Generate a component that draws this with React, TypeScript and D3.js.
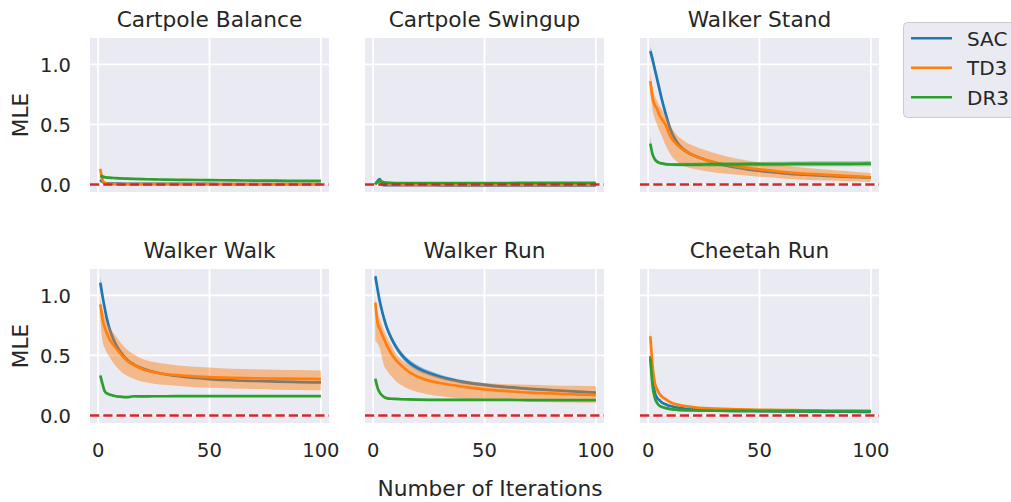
import * as d3 from "d3";

const iterations = [1, 2, 3, 4, 5, 6, 8, 10, 13, 16, 20, 25, 30, 40, 50, 60, 70, 80, 90, 100];
const algorithms = ["SAC", "TD3", "DR3"];
const colors = ["#1f77b4", "#ff7f0e", "#2ca02c"];
const tasks = ["Cartpole Balance", "Cartpole Swingup", "Walker Stand", "Walker Walk", "Walker Run", "Cheetah Run"];
const xTicks = [0, 50, 100];
const yTicks = [0, 0.5, 1.0];

// Cartpole Balance
const cbSac = [0.04, 0.02, 0.012, 0.009, 0.008, 0.007, 0.006, 0.006, 0.005, 0.005, 0.005, 0.004, 0.004, 0.004, 0.004, 0.003, 0.003, 0.003, 0.003, 0.003];
const cbSacLo = [0.03, 0.014, 0.007, 0.005, 0.004, 0.004, 0.003, 0.003, 0.002, 0.002, 0.002, 0.002, 0.002, 0.002, 0.002, 0.001, 0.001, 0.001, 0.001, 0.001];
const cbSacHi = [0.05, 0.026, 0.017, 0.013, 0.012, 0.01, 0.009, 0.009, 0.008, 0.008, 0.008, 0.006, 0.006, 0.006, 0.006, 0.005, 0.005, 0.005, 0.005, 0.005];
const cbTd3 = [0.13, 0.035, 0.012, 0.006, 0.004, 0.003, 0.003, 0.002, 0.002, 0.002, 0.002, 0.002, 0.002, 0.002, 0.002, 0.002, 0.002, 0.002, 0.002, 0.002];
const cbTd3Lo = [0.11, 0.025, 0.007, 0.003, 0.002, 0.001, 0.001, 0, 0, 0, 0, 0, 0, 0, 0, 0, 0, 0, 0, 0];
const cbTd3Hi = [0.15, 0.045, 0.017, 0.009, 0.006, 0.005, 0.005, 0.004, 0.004, 0.004, 0.004, 0.004, 0.004, 0.004, 0.004, 0.004, 0.004, 0.004, 0.004, 0.004];
const cbDr3 = [0.07, 0.065, 0.06, 0.058, 0.056, 0.055, 0.052, 0.05, 0.048, 0.046, 0.044, 0.042, 0.04, 0.038, 0.036, 0.034, 0.032, 0.031, 0.03, 0.029];
const cbDr3Lo = [0.055, 0.05, 0.047, 0.046, 0.045, 0.045, 0.043, 0.042, 0.04, 0.039, 0.037, 0.035, 0.034, 0.032, 0.03, 0.028, 0.026, 0.025, 0.024, 0.023];
const cbDr3Hi = [0.085, 0.08, 0.073, 0.07, 0.067, 0.065, 0.061, 0.058, 0.056, 0.053, 0.051, 0.049, 0.046, 0.044, 0.042, 0.04, 0.038, 0.037, 0.036, 0.035];

// Cartpole Swingup
const csSac = [0, 0.03, 0.045, 0, -0.005, -0.006, -0.006, -0.006, -0.006, -0.006, -0.006, -0.006, -0.007, -0.007, -0.007, -0.007, -0.007, -0.007, -0.007, -0.007];
const csSacLo = [-0.004, 0.022, 0.037, -0.006, -0.009, -0.009, -0.009, -0.009, -0.009, -0.009, -0.009, -0.009, -0.01, -0.01, -0.01, -0.01, -0.01, -0.01, -0.01, -0.01];
const csSacHi = [0.004, 0.038, 0.053, 0.006, -0.001, -0.003, -0.003, -0.003, -0.003, -0.003, -0.003, -0.003, -0.004, -0.004, -0.004, -0.004, -0.004, -0.004, -0.004, -0.004];
const csTd3 = [0.005, 0.02, 0.028, 0.022, 0.012, 0.005, 0, -0.002, -0.003, -0.003, -0.003, -0.003, -0.003, -0.003, -0.003, -0.003, -0.003, -0.003, -0.003, -0.003];
const csTd3Lo = [0, 0.014, 0.022, 0.016, 0.007, 0.001, -0.004, -0.005, -0.006, -0.006, -0.006, -0.006, -0.006, -0.006, -0.006, -0.006, -0.006, -0.006, -0.006, -0.006];
const csTd3Hi = [0.01, 0.026, 0.034, 0.028, 0.017, 0.009, 0.004, 0.001, 0, 0, 0, 0, 0, 0, 0, 0, 0, 0, 0, 0];
const csDr3 = [0, 0.02, 0.028, 0.022, 0.018, 0.015, 0.013, 0.012, 0.012, 0.012, 0.012, 0.012, 0.012, 0.012, 0.012, 0.012, 0.013, 0.013, 0.013, 0.013];
const csDr3Lo = [-0.004, 0.016, 0.024, 0.018, 0.014, 0.011, 0.009, 0.008, 0.008, 0.008, 0.008, 0.008, 0.008, 0.008, 0.008, 0.008, 0.009, 0.009, 0.009, 0.009];
const csDr3Hi = [0.004, 0.024, 0.032, 0.026, 0.022, 0.019, 0.017, 0.016, 0.016, 0.016, 0.016, 0.016, 0.016, 0.016, 0.016, 0.016, 0.017, 0.017, 0.017, 0.017];

// Walker Stand
const wsSac = [1.11, 1.04, 0.96, 0.88, 0.8, 0.72, 0.58, 0.46, 0.35, 0.29, 0.245, 0.21, 0.18, 0.14, 0.113, 0.095, 0.081, 0.071, 0.063, 0.057];
const wsSacLo = [1.07, 1.0, 0.92, 0.845, 0.765, 0.69, 0.55, 0.435, 0.33, 0.275, 0.233, 0.2, 0.171, 0.133, 0.106, 0.089, 0.075, 0.065, 0.057, 0.051];
const wsSacHi = [1.15, 1.08, 1.0, 0.915, 0.835, 0.75, 0.61, 0.485, 0.37, 0.305, 0.257, 0.22, 0.189, 0.147, 0.12, 0.101, 0.087, 0.077, 0.069, 0.063];
const wsTd3 = [0.86, 0.72, 0.66, 0.63, 0.58, 0.55, 0.49, 0.4, 0.33, 0.285, 0.245, 0.21, 0.185, 0.15, 0.125, 0.105, 0.09, 0.08, 0.07, 0.06];
const wsTd3Lo = [0.78, 0.62, 0.55, 0.5, 0.45, 0.41, 0.32, 0.25, 0.19, 0.155, 0.13, 0.115, 0.1, 0.08, 0.065, 0.05, 0.04, 0.033, 0.027, 0.022];
const wsTd3Hi = [0.93, 0.8, 0.74, 0.7, 0.66, 0.63, 0.57, 0.49, 0.41, 0.365, 0.325, 0.29, 0.26, 0.215, 0.185, 0.16, 0.14, 0.125, 0.11, 0.095];
const wsDr3 = [0.34, 0.25, 0.21, 0.19, 0.18, 0.175, 0.168, 0.166, 0.165, 0.165, 0.165, 0.166, 0.167, 0.168, 0.169, 0.17, 0.171, 0.172, 0.172, 0.173];
const wsDr3Lo = [0.3, 0.23, 0.195, 0.177, 0.168, 0.163, 0.156, 0.153, 0.151, 0.15, 0.149, 0.15, 0.15, 0.15, 0.151, 0.151, 0.151, 0.151, 0.151, 0.151];
const wsDr3Hi = [0.4, 0.27, 0.225, 0.203, 0.192, 0.187, 0.18, 0.179, 0.179, 0.18, 0.181, 0.182, 0.184, 0.186, 0.187, 0.189, 0.191, 0.193, 0.193, 0.195];

// Walker Walk
const wwSac = [1.105, 0.99, 0.89, 0.8, 0.73, 0.675, 0.59, 0.53, 0.465, 0.425, 0.39, 0.362, 0.343, 0.318, 0.303, 0.293, 0.287, 0.282, 0.278, 0.275];
const wwSacLo = [1.06, 0.96, 0.865, 0.78, 0.712, 0.66, 0.578, 0.52, 0.457, 0.418, 0.384, 0.356, 0.337, 0.312, 0.297, 0.287, 0.281, 0.276, 0.272, 0.269];
const wwSacHi = [1.16, 1.02, 0.915, 0.82, 0.748, 0.69, 0.602, 0.54, 0.473, 0.432, 0.396, 0.368, 0.349, 0.324, 0.309, 0.299, 0.293, 0.288, 0.284, 0.281];
const wwTd3 = [0.925, 0.8, 0.73, 0.68, 0.64, 0.61, 0.56, 0.515, 0.455, 0.42, 0.385, 0.36, 0.345, 0.33, 0.32, 0.314, 0.31, 0.307, 0.305, 0.303];
const wwTd3Lo = [0.8, 0.62, 0.56, 0.52, 0.49, 0.46, 0.41, 0.37, 0.33, 0.305, 0.28, 0.265, 0.255, 0.24, 0.23, 0.225, 0.22, 0.215, 0.212, 0.21];
const wwTd3Hi = [0.97, 0.88, 0.82, 0.77, 0.74, 0.71, 0.66, 0.61, 0.55, 0.51, 0.47, 0.445, 0.43, 0.41, 0.4, 0.39, 0.385, 0.38, 0.378, 0.375];
const wwDr3 = [0.333, 0.26, 0.2, 0.183, 0.175, 0.17, 0.16, 0.156, 0.152, 0.16, 0.158, 0.16, 0.16, 0.161, 0.161, 0.161, 0.161, 0.161, 0.161, 0.161];
const wwDr3Lo = [0.318, 0.25, 0.191, 0.175, 0.167, 0.162, 0.152, 0.148, 0.144, 0.152, 0.15, 0.152, 0.152, 0.153, 0.153, 0.153, 0.153, 0.153, 0.153, 0.153];
const wwDr3Hi = [0.348, 0.27, 0.209, 0.191, 0.183, 0.178, 0.168, 0.164, 0.16, 0.168, 0.166, 0.168, 0.168, 0.169, 0.169, 0.169, 0.169, 0.169, 0.169, 0.169];

// Walker Run
const wrSac = [1.16, 1.05, 0.95, 0.87, 0.8, 0.74, 0.65, 0.58, 0.5, 0.444, 0.394, 0.353, 0.322, 0.28, 0.255, 0.236, 0.222, 0.211, 0.2, 0.19];
const wrSacLo = [1.14, 1.03, 0.93, 0.85, 0.78, 0.72, 0.625, 0.555, 0.475, 0.42, 0.37, 0.332, 0.303, 0.265, 0.242, 0.224, 0.211, 0.201, 0.191, 0.181];
const wrSacHi = [1.18, 1.07, 0.97, 0.89, 0.82, 0.76, 0.675, 0.605, 0.525, 0.468, 0.418, 0.374, 0.341, 0.295, 0.268, 0.248, 0.233, 0.221, 0.209, 0.199];
const wrTd3 = [0.94, 0.77, 0.72, 0.675, 0.633, 0.59, 0.52, 0.467, 0.41, 0.364, 0.322, 0.29, 0.27, 0.24, 0.217, 0.203, 0.19, 0.183, 0.175, 0.17];
const wrTd3Lo = [0.62, 0.6, 0.56, 0.48, 0.41, 0.38, 0.33, 0.29, 0.25, 0.22, 0.195, 0.175, 0.16, 0.14, 0.128, 0.12, 0.114, 0.11, 0.107, 0.105];
const wrTd3Hi = [0.98, 0.86, 0.8, 0.75, 0.7, 0.66, 0.59, 0.52, 0.46, 0.42, 0.38, 0.35, 0.32, 0.29, 0.27, 0.26, 0.255, 0.25, 0.247, 0.245];
const wrDr3 = [0.305, 0.23, 0.19, 0.167, 0.153, 0.144, 0.139, 0.138, 0.135, 0.133, 0.131, 0.13, 0.13, 0.13, 0.129, 0.129, 0.128, 0.128, 0.128, 0.128];
const wrDr3Lo = [0.29, 0.22, 0.182, 0.159, 0.145, 0.136, 0.131, 0.13, 0.127, 0.125, 0.123, 0.122, 0.122, 0.122, 0.121, 0.121, 0.12, 0.12, 0.12, 0.12];
const wrDr3Hi = [0.32, 0.24, 0.198, 0.175, 0.161, 0.152, 0.147, 0.146, 0.143, 0.141, 0.139, 0.138, 0.138, 0.138, 0.137, 0.137, 0.136, 0.136, 0.136, 0.136];

// Cheetah Run
const crSac = [0.494, 0.3, 0.19, 0.147, 0.128, 0.11, 0.092, 0.078, 0.066, 0.057, 0.05, 0.045, 0.042, 0.038, 0.036, 0.034, 0.033, 0.032, 0.031, 0.03];
const crSacLo = [0.474, 0.285, 0.178, 0.137, 0.119, 0.101, 0.084, 0.07, 0.059, 0.05, 0.044, 0.039, 0.036, 0.032, 0.03, 0.028, 0.027, 0.026, 0.025, 0.024];
const crSacHi = [0.514, 0.315, 0.202, 0.157, 0.137, 0.119, 0.1, 0.086, 0.073, 0.064, 0.056, 0.051, 0.048, 0.044, 0.042, 0.04, 0.039, 0.038, 0.037, 0.036];
const crTd3 = [0.66, 0.41, 0.27, 0.217, 0.183, 0.16, 0.133, 0.11, 0.09, 0.079, 0.07, 0.061, 0.056, 0.051, 0.047, 0.045, 0.043, 0.041, 0.04, 0.039];
const crTd3Lo = [0.61, 0.38, 0.25, 0.2, 0.17, 0.148, 0.123, 0.101, 0.082, 0.072, 0.063, 0.055, 0.05, 0.045, 0.041, 0.039, 0.037, 0.035, 0.034, 0.033];
const crTd3Hi = [0.72, 0.44, 0.29, 0.234, 0.196, 0.172, 0.143, 0.119, 0.098, 0.086, 0.077, 0.067, 0.062, 0.057, 0.053, 0.051, 0.049, 0.047, 0.046, 0.045];
const crDr3 = [0.48, 0.244, 0.147, 0.105, 0.083, 0.072, 0.061, 0.053, 0.047, 0.044, 0.042, 0.04, 0.039, 0.038, 0.037, 0.036, 0.036, 0.035, 0.035, 0.035];
const crDr3Lo = [0.45, 0.224, 0.133, 0.093, 0.072, 0.061, 0.05, 0.042, 0.036, 0.033, 0.031, 0.029, 0.028, 0.027, 0.026, 0.025, 0.025, 0.024, 0.024, 0.024];
const crDr3Hi = [0.51, 0.264, 0.161, 0.117, 0.094, 0.083, 0.072, 0.064, 0.058, 0.055, 0.053, 0.051, 0.05, 0.049, 0.048, 0.047, 0.047, 0.046, 0.046, 0.046];

const panelSeries = [
  [[cbSac, cbSacLo, cbSacHi], [cbTd3, cbTd3Lo, cbTd3Hi], [cbDr3, cbDr3Lo, cbDr3Hi]],
  [[csSac, csSacLo, csSacHi], [csTd3, csTd3Lo, csTd3Hi], [csDr3, csDr3Lo, csDr3Hi]],
  [[wsSac, wsSacLo, wsSacHi], [wsTd3, wsTd3Lo, wsTd3Hi], [wsDr3, wsDr3Lo, wsDr3Hi]],
  [[wwSac, wwSacLo, wwSacHi], [wwTd3, wwTd3Lo, wwTd3Hi], [wwDr3, wwDr3Lo, wwDr3Hi]],
  [[wrSac, wrSacLo, wrSacHi], [wrTd3, wrTd3Lo, wrTd3Hi], [wrDr3, wrDr3Lo, wrDr3Hi]],
  [[crSac, crSacLo, crSacHi], [crTd3, crTd3Lo, crTd3Hi], [crDr3, crDr3Lo, crDr3Hi]],
];

const W = 1011;
const H = 502;
const colLeft = [90, 365, 640];
const rowTop = [38, 269];
const pw = 239;
const ph = 154;
const ink = "#262626";
const font = "DejaVu Sans";

function Panel({ idx }: { idx: number }) {
  const row = Math.floor(idx / 3);
  const col = idx % 3;
  const left = colLeft[col];
  const top = rowTop[row];
  const x = d3.scaleLinear().domain([-3.65, 103.65]).range([left, left + pw]);
  const y = d3.scaleLinear().domain([-0.063, 1.22]).range([top + ph, top]);
  const series = panelSeries[idx];

  return (
    <g>
      <rect x={left} y={top} width={pw} height={ph} fill="#eaeaf2" />
      {xTicks.map((t) => (
        <line key={"gx" + t} x1={x(t)} x2={x(t)} y1={top} y2={top + ph} stroke="#fff" strokeWidth={1.75} />
      ))}
      {yTicks.map((t) => (
        <line key={"gy" + t} x1={left} x2={left + pw} y1={y(t)} y2={y(t)} stroke="#fff" strokeWidth={1.75} />
      ))}
      {series.map(([mean, lo, hi], k) => {
        const line = d3
          .line<number>()
          .x((_, i) => x(iterations[i]))
          .y((d) => y(d))
          .curve(d3.curveMonotoneX);
        const band = d3
          .area<number>()
          .x((_, i) => x(iterations[i]))
          .y0((_, i) => y(lo[i]))
          .y1((d) => y(d))
          .curve(d3.curveMonotoneX);
        return (
          <g key={algorithms[k]}>
            <path d={line(mean) ?? ""} fill="none" stroke={colors[k]} strokeWidth={2.7} />
            <path d={band(hi) ?? ""} fill={colors[k]} fillOpacity={0.45} />
          </g>
        );
      })}
      <line x1={left} x2={left + pw} y1={y(0)} y2={y(0)} stroke="#d62728" strokeWidth={2.5} strokeDasharray="9.25,4" />
      <text x={left + pw / 2} y={top - 11.5} textAnchor="middle" fontSize={21.7} fill={ink}>
        {tasks[idx]}
      </text>
      {col === 0 &&
        yTicks.map((t) => (
          <text key={"ty" + t} x={left - 19} y={y(t) + 7.2} textAnchor="end" fontSize={19.5} fill={ink}>
            {d3.format(".1f")(t)}
          </text>
        ))}
      {col === 0 && (
        <text transform={`translate(28,${top + ph / 2}) rotate(-90)`} textAnchor="middle" fontSize={21.7} fill={ink}>
          MLE
        </text>
      )}
      {row === 1 &&
        xTicks.map((t) => (
          <text key={"tx" + t} x={x(t)} y={top + ph + 34} textAnchor="middle" fontSize={19.5} fill={ink}>
            {t}
          </text>
        ))}
    </g>
  );
}

export default function App() {
  return (
    <div style={{ position: "absolute", left: 0, top: 0 }}>
      <svg width={W} height={H} viewBox={`0 0 ${W} ${H}`} style={{ display: "block", background: "#fff" }} fontFamily={font}>
        {tasks.map((_, i) => (
          <Panel key={tasks[i]} idx={i} />
        ))}
        <text x={490} y={496} textAnchor="middle" fontSize={21.7} fill={ink}>
          Number of Iterations
        </text>
        <g>
          <rect x={903.5} y={22.5} width={130} height={95} rx={4} fill="#eaeaf2" stroke="#cccccc" strokeWidth={1} />
          {algorithms.map((a, k) => (
            <g key={a}>
              <line x1={911} x2={952} y1={38.3 + k * 29.5} y2={38.3 + k * 29.5} stroke={colors[k]} strokeWidth={2.5} />
              <text x={967} y={38.3 + k * 29.5 + 7.3} fontSize={20} fill={ink}>
                {a}
              </text>
            </g>
          ))}
        </g>
      </svg>
    </div>
  );
}
